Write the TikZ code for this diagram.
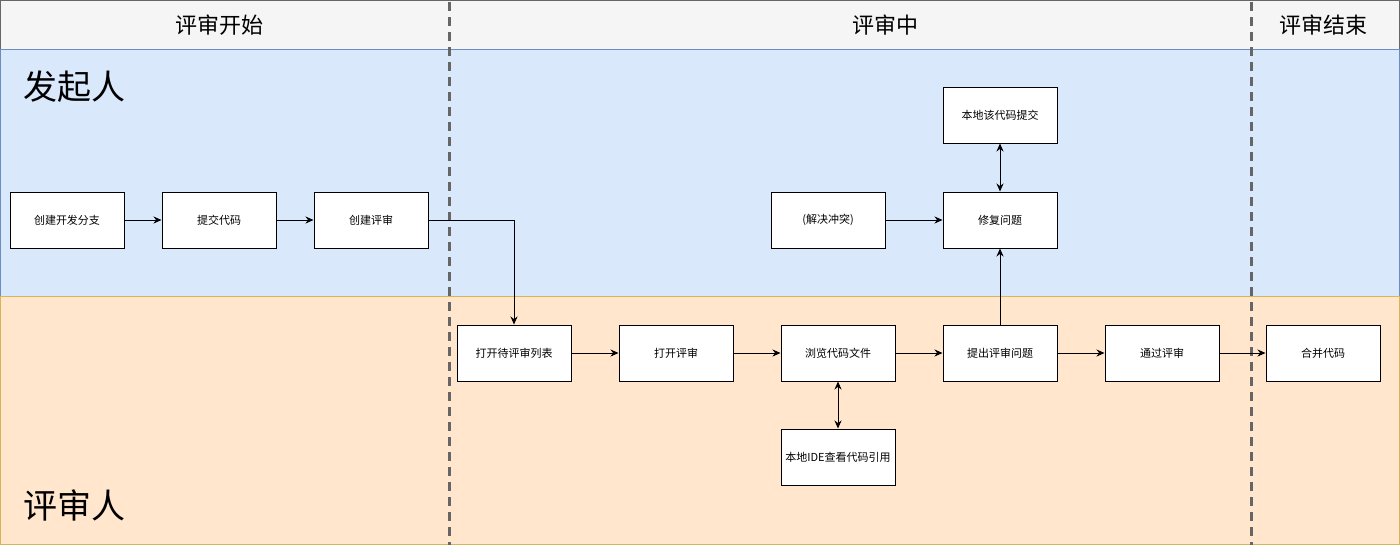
\documentclass[tikz,border=0pt]{standalone}
\usepackage{fontspec}
\setmainfont{Noto Sans CJK SC}
\usetikzlibrary{arrows.meta}
\definecolor{hdrfill}{HTML}{F5F5F5}\definecolor{hdrline}{HTML}{666666}
\definecolor{bluefill}{HTML}{DAE8FC}\definecolor{blueline}{HTML}{6C8EBF}
\definecolor{orgfill}{HTML}{FFE6CC}\definecolor{orgline}{HTML}{D6B656}
\tikzset{box/.style={draw,line width=1pt,fill=white,minimum width=114pt,minimum height=56pt,inner sep=1pt,font=\fontsize{11}{13}\selectfont},
  arr/.style={-{Stealth[length=8pt,width=7pt]},line width=0.9pt},
  dbl/.style={{Stealth[length=8pt,width=7pt]}-{Stealth[length=8pt,width=7pt]},line width=0.9pt},
  phase/.style={dash pattern=on 9pt off 6pt,line width=3pt,draw=hdrline}}

\begin{document}
\begin{tikzpicture}[x=1pt,y=-1pt]
\useasboundingbox (0,0) rectangle (1400,547);
% lanes
\draw[hdrline,fill=hdrfill] (0.5,0.5) rectangle (1399.5,49);
\draw[blueline,fill=bluefill] (0.5,49) rectangle (1399.5,296);
\draw[orgline,fill=orgfill] (0.5,296) rectangle (1399.5,544);
\foreach \n/\x/\t in {h1/219/评审开始,h2/885/评审中,h3/1323/评审结束}{\node[font=\fontsize{22}{25}\selectfont] (\n) at (\x,25){\t};}
\node[anchor=west,font=\fontsize{34}{38}\selectfont] (sub) at (20,87){发起人};
\node[anchor=west,font=\fontsize{34}{38}\selectfont] (rev) at (20,505){评审人};
\coordinate (p1a) at (449,2);\coordinate (p1b) at (449,545);\coordinate (p2a) at (1251,2);\coordinate (p2b) at (1251,545);
\draw[phase] (p1a)--(p1b) (p2a)--(p2b);
% boxes
\foreach \n/\x/\y/\t in {br/67/220/创建开发分支,cm/219/220/提交代码,cr/371/220/创建评审,
  ls/514/353/打开待评审列表,op/676/353/打开评审,bw/838/353/浏览代码文件,ide/838/457/本地IDE查看代码引用,
  iss/1000/353/提出评审问题,ok/1162/353/通过评审,mg/1323/353/合并代码,
  cf/828/220/(解决冲突),fx/1000/220/修复问题,lc/1000/115/本地该代码提交}{\node[box] (\n) at (\x,\y){\t};}
% flow
\draw[arr] (br)--(cm);\draw[arr] (cm)--(cr);\draw[arr] (cr.east)-|(ls.north);
\draw[arr] (ls)--(op);\draw[arr] (op)--(bw);\draw[arr] (bw)--(iss);\draw[arr] (iss)--(ok);\draw[arr] (ok)--(mg);
\draw[dbl] (bw)--(ide);\draw[arr] (iss)--(fx);\draw[arr] (cf)--(fx);\draw[dbl] (fx)--(lc);
\end{tikzpicture}
\end{document}
